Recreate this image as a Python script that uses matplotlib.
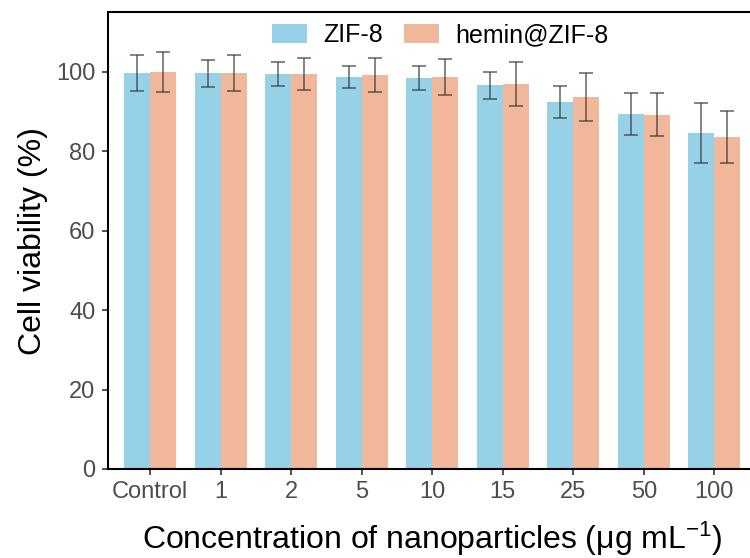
import numpy as np
import matplotlib
matplotlib.use("Agg")
import matplotlib.pyplot as plt

plt.rcParams['font.family'] = ['Liberation Sans', 'DejaVu Sans']
plt.rcParams['mathtext.fontset'] = 'custom'
plt.rcParams['mathtext.rm'] = 'Liberation Sans'
plt.rcParams['mathtext.it'] = 'Liberation Sans:italic'

# %% data
conc = ["Control", "1", "2", "5", "10", "15", "25", "50", "100"]
zif8_mean = [99.8, 99.6, 99.5, 98.7, 98.5, 96.6, 92.4, 89.4, 84.6]
zif8_sd = [4.5, 3.5, 3.0, 2.7, 3.0, 3.4, 4.1, 5.4, 7.5]
hemin_mean = [100.0, 99.8, 99.5, 99.2, 98.7, 96.9, 93.7, 89.2, 83.6]
hemin_sd = [5.0, 4.5, 4.1, 4.2, 4.5, 5.5, 6.1, 5.4, 6.5]

blue = "#97D1E7"
salmon = "#F0B79A"

fig = plt.figure(figsize=(7.5, 5.58), dpi=100)
ax = fig.add_axes([0.144, 0.1595, 1.0088 - 0.144, 0.978 - 0.1595])

x = np.arange(1, len(conc) + 1)
w = 0.37

err_kw = dict(ecolor="#333333", elinewidth=1.3, capsize=5, capthick=1.3, alpha=0.65)

ax.bar(x - w / 2, zif8_mean, w, color=blue, label="ZIF-8", zorder=2)
ax.bar(x + w / 2, hemin_mean, w, color=salmon, label="hemin@ZIF-8", zorder=2)
ax.errorbar(x - w / 2, zif8_mean, yerr=zif8_sd, fmt="none", zorder=3, **err_kw)
ax.errorbar(x + w / 2, hemin_mean, yerr=hemin_sd, fmt="none", zorder=3, **err_kw)

ax.set_xlim(0.4, 9.6)
ax.set_ylim(0, 115)
ax.set_xticks(x)
ax.set_xticklabels(conc)
ax.set_yticks(np.arange(0, 101, 20))

for s in ax.spines.values():
    s.set_color("black")
    s.set_linewidth(1.5)

ax.tick_params(axis="both", direction="out", length=4, width=1.2, color="#333333",
               labelcolor="#4D4D4D", labelsize=17, pad=5)

ax.set_ylabel("Cell viability (%)", fontsize=23, color="black", labelpad=6)
ax.set_xlabel("Concentration of nanoparticles (μg mL$^{-1}$)", fontsize=23,
              color="black", labelpad=12)

fig.legend(loc="center", bbox_to_anchor=(0.587, 0.937), ncol=2, frameon=False,
           fontsize=18, handlelength=1.4, handleheight=0.8, handletextpad=0.68,
           columnspacing=0.8)

fig.savefig("out.png", dpi=100)
